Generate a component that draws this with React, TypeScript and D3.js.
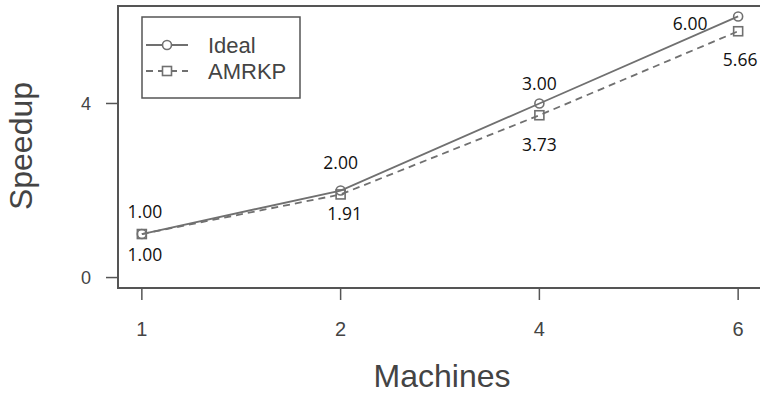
import React from "react";
import * as d3 from "d3";

const machines = ["1", "2", "4", "6"];
const idealValues = [1, 2, 4, 6];
const amrkpValues = [1, 1.91, 3.73, 5.66];
const idealLabels = ["1.00", "2.00", "3.00", "6.00"];
const amrkpLabels = ["1.00", "1.91", "3.73", "5.66"];
const yTicks = [0, 4];
const seriesNames = ["Ideal", "AMRKP"];

const W = 760;
const H = 396;
const left = 118, right = 762, top = 6, bottom = 288;

export default function App() {
  const idx = d3.range(machines.length);
  const x = d3.scaleLinear().domain([-0.12, 3.12]).range([left, right]);
  const y = d3.scaleLinear().domain([-0.24, 6.24]).range([bottom, top]);
  const line = d3.line<number>().x((_, i) => x(i)).y((d) => y(d));
  const gray = "#707070";
  const axisCol = "#555";
  const tickFont = "Liberation Sans, Arial, sans-serif";
  const annFont = "Open Sans, sans-serif";

  // annotation offsets (style)
  const idealOff = [[3, -22], [0, -28], [0, -20], [-48, 7]];
  const amrkpOff = [[3, 21], [4, 19], [0, 30], [2, 29]];

  return (
    <svg width={W} height={H} style={{ position: "absolute", left: 0, top: 0, background: "#fff" }}>
      {/* plot box */}
      <rect x={left} y={top} width={right - left} height={bottom - top} fill="none" stroke={axisCol} strokeWidth={2} />
      {/* y axis */}
      {yTicks.map((t) => (
        <g key={"y" + t}>
          <line x1={left - 12} x2={left} y1={y(t)} y2={y(t)} stroke={axisCol} strokeWidth={1.5} />
          <text x={86} y={y(t)} dy="0.36em" textAnchor="middle" fontFamily={tickFont} fontSize={18} fill="#444">
            {t}
          </text>
        </g>
      ))}
      {/* x axis */}
      {idx.map((i) => (
        <g key={"x" + i}>
          <line x1={x(i)} x2={x(i)} y1={bottom} y2={bottom + 12} stroke={axisCol} strokeWidth={1.5} />
          <text x={x(i)} y={336} textAnchor="middle" fontFamily={tickFont} fontSize={20} fill="#444">
            {machines[i]}
          </text>
        </g>
      ))}
      <text x={442} y={387} textAnchor="middle" fontFamily={tickFont} fontSize={32} fill="#444">
        Machines
      </text>
      <text
        transform={`translate(32,146) rotate(-90)`}
        textAnchor="middle"
        fontFamily={tickFont}
        fontSize={32}
        fill="#444"
      >
        Speedup
      </text>

      {/* lines */}
      <path d={line(idealValues) || ""} fill="none" stroke={gray} strokeWidth={1.8} />
      <path d={line(amrkpValues) || ""} fill="none" stroke={gray} strokeWidth={1.8} strokeDasharray="7,5" />
      {idealValues.map((v, i) => (
        <circle key={"c" + i} cx={x(i)} cy={y(v)} r={4.5} fill="none" stroke={gray} strokeWidth={1.6} />
      ))}
      {amrkpValues.map((v, i) => (
        <rect key={"s" + i} x={x(i) - 4.5} y={y(v) - 4.5} width={9} height={9} fill="none" stroke={gray} strokeWidth={1.6} />
      ))}

      {/* annotations */}
      {idealValues.map((v, i) => (
        <text key={"li" + i} x={x(i) + idealOff[i][0]} y={y(v) + idealOff[i][1]} dy="0.35em" textAnchor="middle" fontFamily={annFont} fontSize={17.5} fill="#111">
          {idealLabels[i]}
        </text>
      ))}
      {amrkpValues.map((v, i) => (
        <text key={"la" + i} x={x(i) + amrkpOff[i][0]} y={y(v) + amrkpOff[i][1]} dy="0.35em" textAnchor="middle" fontFamily={annFont} fontSize={17.5} fill="#111">
          {amrkpLabels[i]}
        </text>
      ))}

      {/* legend */}
      <rect x={142} y={17} width={158} height={81} fill="#fff" stroke={axisCol} strokeWidth={1.5} />
      {seriesNames.map((name, i) => {
        const ly = 45 + i * 26;
        return (
          <g key={"lg" + i}>
            <line x1={146} x2={188} y1={ly} y2={ly} stroke={gray} strokeWidth={1.8} strokeDasharray={i === 1 ? "7,5" : undefined} />
            {i === 0 ? (
              <circle cx={167} cy={ly} r={4.5} fill="#fff" stroke={gray} strokeWidth={1.6} />
            ) : (
              <rect x={162.5} y={ly - 4.5} width={9} height={9} fill="#fff" stroke={gray} strokeWidth={1.6} />
            )}
            <text x={208} y={ly} dy="0.36em" fontFamily={tickFont} fontSize={22} fill="#444">
              {name}
            </text>
          </g>
        );
      })}
    </svg>
  );
}
